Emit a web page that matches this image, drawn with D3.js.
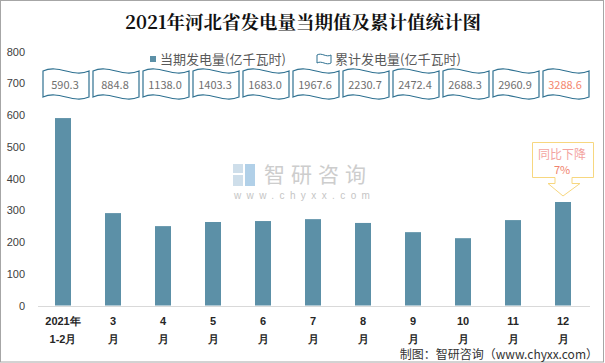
<!DOCTYPE html>
<html>
<head>
<meta charset="utf-8">
<script src="https://cdn.jsdelivr.net/npm/d3@7"></script>
<style>
  body { margin: 0; background: #fff; }
  svg { display: block; font-family: "Noto Sans CJK SC", "Noto Sans", sans-serif; }
</style>
</head>
<body>
<svg id="chart" width="605" height="363"></svg>
<script>
// data
var months = ["2021年\n1-2月", "3\n月", "4\n月", "5\n月", "6\n月", "7\n月", "8\n月", "9\n月", "10\n月", "11\n月", "12\n月"];
var monthly = [590.3, 291, 250, 263, 266, 272, 260, 231, 212, 269, 326];
var cumulative = ["590.3", "884.8", "1138.0", "1403.3", "1683.0", "1967.6", "2230.7", "2472.4", "2688.3", "2960.9", "3288.6"];
var yTicks = [0, 100, 200, 300, 400, 500, 600, 700, 800];

var svg = d3.select("#chart");
var W = 605, H = 363;
var barColor = "#5c90a7", waveColor = "#2f7191";

// outer frame
svg.append("rect").attr("x", 0.5).attr("y", 0.5).attr("width", W - 2).attr("height", H - 1.5)
  .attr("fill", "none").attr("stroke", "#a6a6a6");

var x = d3.scaleBand().domain(months).range([38, 588]).paddingInner(0.68).paddingOuter(0.34);
var y = d3.scaleLinear().domain([0, 800]).range([305.5, 51.5]);

// title
svg.append("text").attr("x", 303).attr("y", 29).attr("text-anchor", "middle")
  .attr("font-size", 18.5).attr("font-weight", "bold").attr("fill", "#111")
  .style("font-family", "'Noto Serif CJK SC', 'DejaVu Serif', serif")
  .text("2021年河北省发电量当期值及累计值统计图");

// y axis labels only
var yAxis = svg.append("g").attr("transform", "translate(25,0)")
  .call(d3.axisLeft(y).tickValues(yTicks).tickSize(0).tickPadding(0));
yAxis.select(".domain").remove();
yAxis.selectAll("text").attr("font-size", 11).attr("fill", "#404040")
  .style("font-family", "'Liberation Sans', sans-serif");

// x axis
var xAxis = svg.append("g").attr("transform", "translate(0,306)")
  .call(d3.axisBottom(x).tickSize(0).tickFormat(""));
xAxis.select(".domain").attr("stroke", "#d9d9d9").attr("d", "M38,0.5H590");
xAxis.selectAll(".tick").each(function(d) {
  var t = d3.select(this).append("text").attr("text-anchor", "middle")
    .attr("font-size", 11).attr("font-weight", "bold").attr("fill", "#262626");
  d.split("\n").forEach(function(line, i) {
    t.append("tspan").attr("x", 0).attr("y", 19 + i * 18).text(line);
  });
});

// watermark
var wm = svg.append("g").attr("opacity", 0.9);
wm.append("rect").attr("x", 233).attr("y", 164).attr("width", 10).attr("height", 9).attr("fill", "#c9dbe8");
wm.append("rect").attr("x", 233).attr("y", 175).attr("width", 10).attr("height", 11).attr("fill", "#c9dbe8");
wm.append("rect").attr("x", 245).attr("y", 164).attr("width", 10).attr("height", 22).attr("fill", "#a9cbe6");
wm.append("text").attr("x", 264).attr("y", 182).attr("font-size", 21).attr("fill", "#c8c8c8")
  .attr("letter-spacing", 6).text("智研咨询");
wm.append("text").attr("x", 234).attr("y", 199).attr("font-size", 10).attr("fill", "#c0c0c0")
  .style("font-family", "'Liberation Sans', sans-serif")
  .attr("letter-spacing", 5.4).text("www.chyxx.com");

// bars
svg.append("g").selectAll("rect").data(monthly).enter().append("rect")
  .attr("x", function(d, i) { return x(months[i]); })
  .attr("y", function(d) { return y(d); })
  .attr("width", x.bandwidth())
  .attr("height", function(d) { return y(0) - y(d); })
  .attr("fill", barColor);

// wave banner path
function wave(x0, yT, w, h, a) {
  var yB = yT + h;
  return "M" + x0 + "," + yT +
    "C" + (x0 + w * 0.35) + "," + (yT - 2.4 * a) + " " + (x0 + w * 0.65) + "," + (yT + 2.4 * a) + " " + (x0 + w) + "," + yT +
    "L" + (x0 + w) + "," + yB +
    "C" + (x0 + w * 0.65) + "," + (yB + 2.4 * a) + " " + (x0 + w * 0.35) + "," + (yB - 2.4 * a) + " " + x0 + "," + yB + "Z";
}

var banners = svg.append("g").selectAll("g").data(cumulative).enter().append("g")
  .attr("transform", function(d, i) { return "translate(" + (x(months[i]) + x.bandwidth() / 2 + 3) + ",0)"; });
banners.append("path").attr("d", wave(-23, 71, 46, 26, 3))
  .attr("fill", "#fff").attr("stroke", waveColor).attr("stroke-width", 1.2);
banners.append("text").attr("x", -1).attr("y", 89).attr("text-anchor", "middle")
  .attr("font-size", 11).attr("fill", function(d, i) { return i === cumulative.length - 1 ? "#f4866e" : "#6f6f6f"; })
  .text(function(d) { return d; });

// legend
svg.append("rect").attr("x", 150).attr("y", 56).attr("width", 6).attr("height", 6).attr("fill", barColor);
svg.append("text").attr("x", 160).attr("y", 63.5).attr("font-size", 13).attr("fill", "#595959")
  .text("当期发电量(亿千瓦时)");
svg.append("path").attr("d", wave(317, 55, 14, 8, 1.2)).attr("fill", "#fff")
  .attr("stroke", waveColor).attr("stroke-width", 1);
svg.append("text").attr("x", 335).attr("y", 63.5).attr("font-size", 13).attr("fill", "#595959")
  .text("累计发电量(亿千瓦时)");

// callout on the last bar
var cx = x(months[10]) + x.bandwidth() / 2;
svg.append("path")
  .attr("d", "M532.5,142.5H593.5V177.5H" + (cx + 9) + "V183.5H" + (cx + 17) + "L" + cx + "," + (y(monthly[10]) - 6) +
    "L" + (cx - 15) + ",183.5H" + (cx - 8) + "V177.5H532.5Z")
  .attr("fill", "#fff").attr("stroke", "#f7d77f").attr("stroke-width", 1);
svg.append("text").attr("x", 562).attr("y", 159).attr("text-anchor", "middle")
  .attr("font-size", 12).attr("fill", "#f3a3a0").text("同比下降");
svg.append("text").attr("x", 562).attr("y", 174).attr("text-anchor", "middle")
  .attr("font-size", 11).attr("fill", "#f0826d").text("7%");

// source note
svg.append("text").attr("x", 598).attr("y", 359).attr("text-anchor", "end")
  .attr("font-size", 12).attr("fill", "#333").text("制图：智研咨询（www.chyxx.com）");
</script>
</body>
</html>
